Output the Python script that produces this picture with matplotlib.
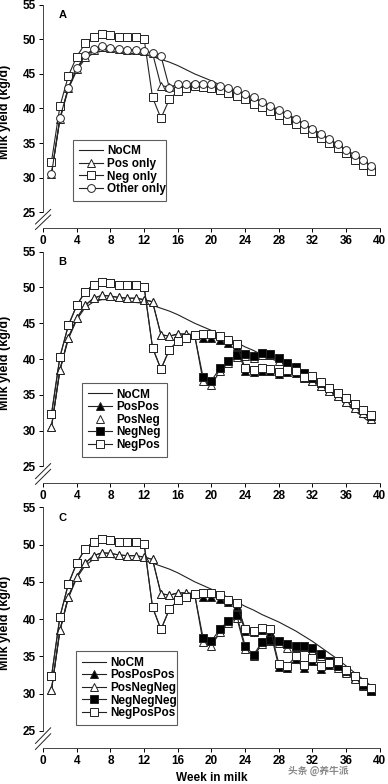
import matplotlib
matplotlib.use("Agg")
import matplotlib.pyplot as plt
from matplotlib.lines import Line2D

plt.rcParams["font.family"] = ["Liberation Sans", "DejaVu Sans"]
plt.rcParams["font.weight"] = "bold"

weeks = list(range(1, 40))

nocm = [30.6, 38.4, 42.8, 45.5, 47.2, 48.0, 48.3, 48.3, 48.1, 48.0,
        47.9, 47.8, 47.5, 47.1, 46.7, 46.2, 45.6, 45.0, 44.5, 44.0,
        43.4, 42.9, 42.3, 41.7, 41.2, 40.6, 40.1, 39.6, 39.0, 38.4,
        37.7, 37.0, 36.2, 35.4, 34.6, 33.7, 32.8, 31.9, 31.0]

# panel A
pos_only = [30.5, 38.5, 43.0, 45.7, 47.5, 48.5, 48.9, 48.8, 48.6, 48.5,
            48.5, 48.3, 48.0, 43.3, 43.1, 43.4, 43.5, 43.5, 43.3, 43.2,
            42.9, 42.5, 42.0, 41.5, 41.0, 40.4, 39.8, 39.2, 38.6, 38.0,
            37.3, 36.6, 35.9, 35.1, 34.4, 33.6, 32.8, 32.0, 31.2]
neg_only = [32.3, 40.3, 44.7, 47.5, 49.4, 50.4, 50.7, 50.6, 50.4, 50.3,
            50.3, 50.1, 41.6, 38.6, 41.3, 42.5, 43.0, 43.3, 43.1, 43.0,
            42.7, 42.3, 41.8, 41.3, 40.7, 40.2, 39.6, 39.0, 38.4, 37.8,
            37.1, 36.4, 35.7, 35.0, 34.3, 33.5, 32.6, 31.8, 31.0]
other_only = [30.5, 38.6, 43.0, 45.8, 47.7, 48.6, 49.0, 48.8, 48.6, 48.5,
              48.5, 48.3, 48.0, 47.6, 43.0, 43.5, 43.6, 43.6, 43.6, 43.5,
              43.3, 43.0, 42.6, 42.1, 41.6, 41.0, 40.4, 39.8, 39.2, 38.5,
              37.8, 37.1, 36.3, 35.6, 34.8, 34.0, 33.3, 32.5, 31.7]

# panel B
pospos = [30.5, 38.5, 43.0, 45.7, 47.5, 48.5, 48.9, 48.8, 48.6, 48.5,
          48.5, 48.3, 48.0, 43.4, 43.2, 43.5, 43.5, 43.4, 43.0, 43.0,
          42.7, 42.3, 41.8, 38.3, 38.2, 38.4, 38.3, 37.9, 38.2, 38.0,
          37.3, 37.0, 36.3, 35.6, 34.8, 34.0, 33.2, 32.4, 31.6]
posneg = [30.5, 38.5, 43.0, 45.7, 47.5, 48.5, 48.9, 48.8, 48.6, 48.5,
          48.5, 48.3, 48.0, 43.4, 43.2, 43.5, 43.5, 43.4, 36.9, 36.4,
          38.3, 39.5, 40.3, 40.4, 40.2, 40.6, 40.5, 39.8, 39.2, 38.6,
          37.8, 37.0, 36.3, 35.6, 34.8, 34.0, 33.2, 32.4, 31.6]
negneg = [32.3, 40.3, 44.7, 47.5, 49.4, 50.4, 50.7, 50.6, 50.4, 50.3,
          50.3, 50.1, 41.6, 38.6, 41.3, 42.5, 43.0, 43.3, 37.5, 37.0,
          38.7, 39.7, 40.5, 40.7, 40.4, 40.9, 40.7, 40.1, 39.5, 38.9,
          38.1, 37.3, 36.7, 36.0, 35.2, 34.5, 33.7, 32.9, 32.1]
negpos = [32.3, 40.3, 44.7, 47.5, 49.4, 50.4, 50.7, 50.6, 50.4, 50.3,
          50.3, 50.1, 41.6, 38.6, 41.3, 42.5, 43.0, 43.3, 43.5, 43.5,
          43.2, 42.6, 42.1, 38.7, 38.5, 38.8, 38.6, 38.2, 38.5, 38.3,
          37.5, 37.6, 36.8, 36.0, 35.2, 34.5, 33.7, 32.9, 32.2]

# panel C
pospospos = [30.5, 38.5, 43.0, 45.7, 47.5, 48.5, 48.9, 48.8, 48.6, 48.5,
             48.5, 48.3, 48.0, 43.4, 43.2, 43.5, 43.5, 43.4, 43.0, 43.0,
             42.7, 42.3, 41.8, 38.4, 38.2, 38.5, 38.3, 33.6, 33.4, 34.6,
             33.4, 34.3, 33.3, 33.8, 33.9, 32.9, 32.1, 31.2, 30.5]
posnegneg = [30.5, 38.5, 43.0, 45.7, 47.5, 48.5, 48.9, 48.8, 48.6, 48.5,
             48.5, 48.3, 48.0, 43.4, 43.2, 43.5, 43.5, 43.4, 36.9, 36.4,
             38.2, 39.4, 40.2, 36.0, 35.0, 36.6, 37.0, 36.8, 36.1, 36.2,
             36.2, 35.7, 35.0, 34.2, 33.4, 32.7, 31.9, 31.0, 30.3]
negnegneg = [32.3, 40.3, 44.7, 47.5, 49.4, 50.4, 50.7, 50.6, 50.4, 50.3,
             50.3, 50.1, 41.6, 38.6, 41.3, 42.5, 43.0, 43.3, 37.5, 37.0,
             38.7, 39.7, 40.5, 36.4, 35.2, 36.9, 37.2, 37.1, 36.6, 36.4,
             36.4, 36.1, 35.3, 34.4, 33.7, 33.0, 32.4, 31.1, 30.4]
negpospos = [32.3, 40.3, 44.7, 47.5, 49.4, 50.4, 50.7, 50.6, 50.4, 50.3,
             50.3, 50.1, 41.6, 38.6, 41.3, 42.5, 43.0, 43.3, 43.5, 43.5,
             43.2, 42.6, 42.1, 38.7, 38.4, 38.8, 38.6, 34.0, 33.7, 35.0,
             33.8, 34.8, 33.7, 34.1, 34.3, 33.1, 32.4, 31.5, 30.8]

LC = "#222222"
MS = 5.6

STYLE = {
    "tri_open": dict(marker="^", mfc="white"),
    "tri_fill": dict(marker="^", mfc="black"),
    "sq_open": dict(marker="s", mfc="white"),
    "sq_fill": dict(marker="s", mfc="black"),
    "circ_open": dict(marker="o", mfc="white"),
}

panels = [
    ("A", [("Pos only", pos_only, "tri_open"),
           ("Neg only", neg_only, "sq_open"),
           ("Other only", other_only, "circ_open")],
     [0.111, 0.709, 0.868, 0.285], (0.089, 0.121, 0.276, 0.274)),
    ("B", [("PosPos", pospos, "tri_fill"),
           ("PosNeg", posneg, "tri_open"),
           ("NegNeg", negneg, "sq_fill"),
           ("NegPos", negpos, "sq_open")],
     [0.111, 0.384, 0.868, 0.295], (0.116, 0.113, 0.252, 0.320)),
    ("C", [("PosPosPos", pospospos, "tri_fill"),
           ("PosNegNeg", posnegneg, "tri_open"),
           ("NegNegNeg", negnegneg, "sq_fill"),
           ("NegPosPos", negpospos, "sq_open")],
     [0.111, 0.046, 0.868, 0.307], (0.098, 0.095, 0.300, 0.305)),
]

fig = plt.figure(figsize=(3.88, 7.84), dpi=100)

for letter, series, rect, leg_box in panels:
    ax = fig.add_axes(rect)
    ax.plot(weeks, nocm, color=LC, lw=0.8, zorder=2)
    handles = [Line2D([], [], color=LC, lw=0.8)]
    labels = ["NoCM"]
    for i, (name, vals, sty) in enumerate(series):
        st = STYLE[sty]
        ax.plot(weeks, vals, color=LC, lw=0.8, marker=st["marker"], ms=MS,
                mfc=st["mfc"], mec=LC, mew=0.7, zorder=3 + i)
        # PosNeg legend entry shows the marker only
        ls = "none" if name == "PosNeg" else "-"
        handles.append(Line2D([], [], color=LC, lw=0.8, ls=ls, marker=st["marker"],
                              ms=MS, mfc=st["mfc"], mec=LC, mew=0.7))
        labels.append(name)

    ax.set_xlim(0, 40)
    ax.set_ylim(22.7, 55)
    ax.set_xticks(range(0, 41, 4))
    ax.set_yticks(range(25, 56, 5))
    ax.tick_params(direction="out", length=3, width=0.7, labelsize=8.5, pad=2)
    for lab in ax.get_xticklabels() + ax.get_yticklabels():
        lab.set_fontweight("bold")
    for s in ("top", "right"):
        ax.spines[s].set_visible(False)
    ax.spines["left"].set_bounds(25, 55)
    ax.spines["left"].set_linewidth(0.7)
    ax.spines["bottom"].set_linewidth(0.7)
    ax.spines["left"].set_color("#444444")
    ax.spines["bottom"].set_color("#444444")

    # axis break marks
    for dy in (0.0, 0.8):
        ax.plot([-0.9, 0.9], [22.5 + dy, 24.6 + dy], color=LC, lw=0.7,
                clip_on=False, zorder=5)

    ax.text(0.045, 0.955, letter, transform=ax.transAxes, fontsize=8,
            fontweight="bold", ha="left", va="center")
    ax.set_ylabel("Milk yield (kg/d)", fontsize=9, fontweight="bold")
    ax.yaxis.set_label_coords(-0.095, 0.52)

    leg = ax.legend(handles, labels, loc="lower left", bbox_to_anchor=leg_box,
                    mode="expand", fontsize=8.5, frameon=True, fancybox=False,
                    handlelength=2.0, handletextpad=0.4, labelspacing=0.05,
                    borderpad=0.5, borderaxespad=0)
    leg.get_frame().set_edgecolor("#333333")
    leg.get_frame().set_linewidth(0.8)
    for t in leg.get_texts():
        t.set_fontweight("bold")

    if letter == "C":
        ax.set_xlabel("Week in milk", fontsize=8.5, fontweight="bold", labelpad=4)

fig.text(0.82, 0.017, "头条 @养牛派", fontsize=7, color="#888888",
         family=["Noto Sans CJK SC", "DejaVu Sans"], ha="center", va="center")

fig.savefig("out.png", dpi=100, facecolor="white")
